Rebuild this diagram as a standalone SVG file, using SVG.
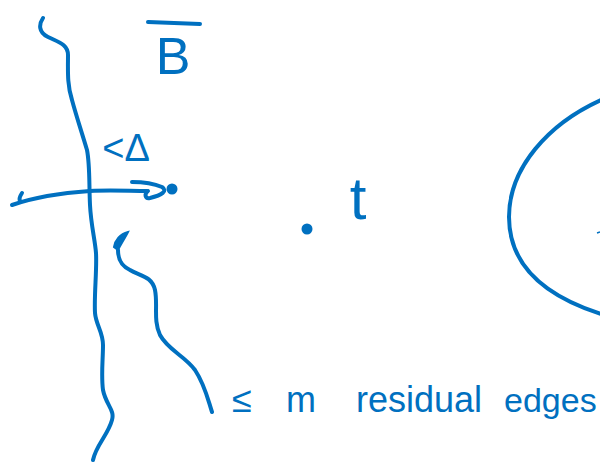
<svg xmlns="http://www.w3.org/2000/svg" width="600" height="467" viewBox="0 0 600 467">
<style>
.ink{fill:none;stroke:#0070C0;stroke-width:4;stroke-linecap:round;stroke-linejoin:round}
.txt{fill:#0070C0;font-family:"Liberation Sans","DejaVu Sans",sans-serif}
</style>
<rect width="600" height="467" fill="#ffffff"/>
<g id="cut-boundary">
<path class="ink" d="M43,18 C39,24 38,32 48,37 C58,42 68,44 68,55 C68,70 67,85 72,100 C76,115 81,130 87,150 C90,165 89,185 90,205 C91,225 95,240 96,253 C97,270 94,295 95,313 C96,325 103,332 103,345 C103,360 101,375 103,390 C106,405 115,410 112,420 C108,435 96,445 93,460"/>
</g>
<g id="label-Bbar">
<path class="ink" d="M148,22 L200,24"/>
<text class="txt" x="173" y="74" font-size="52" text-anchor="middle">B</text>
</g>
<g id="label-delta">
<text class="txt" x="126" y="161" font-size="38" text-anchor="middle">&lt;Δ</text>
</g>
<g id="node-v">
<circle cx="172" cy="189" r="5.5" fill="#0070C0"/>
</g>
<g id="node-t">
<circle cx="307" cy="229" r="5.5" fill="#0070C0"/>
<text class="txt" x="358" y="219" font-size="60" text-anchor="middle">t</text>
</g>
<g id="region-right">
<path class="ink" d="M601,100 C548,124 509,168 509,217 C509,265 545,296 601,314"/>
<path d="M597,233 L600,232" stroke="#0070C0" stroke-width="1.5" fill="none"/>
</g>
<g id="connectors">
<path class="ink" d="M12,205 C35,197 60,193 90,191 C110,190 130,191 147,191"/>
<path class="ink" d="M22,193 C20,196 19,199 20,201"/>
<path class="ink" d="M132,182 C145,182 155,184 162,187 C168,191 162,195 150,198 C145,199 144,194 148,191"/>
<path class="ink" d="M118,250 C118,258 120,265 130,270 C140,276 152,276 155,290 C158,305 153,320 160,335 C168,350 185,356 195,370 C205,385 208,400 212,412"/>
<path d="M114,247 C115,240 120,234 128,232 C125,238 121,244 118,250 Z" fill="#0070C0" stroke="#0070C0" stroke-width="2"/>
</g>
<g id="label-residual">
<text class="txt" font-size="36" y="412"><tspan x="232">≤</tspan><tspan x="286">m</tspan><tspan x="356">residual</tspan><tspan x="504" font-size="34">edges</tspan></text>
</g>
</svg>
